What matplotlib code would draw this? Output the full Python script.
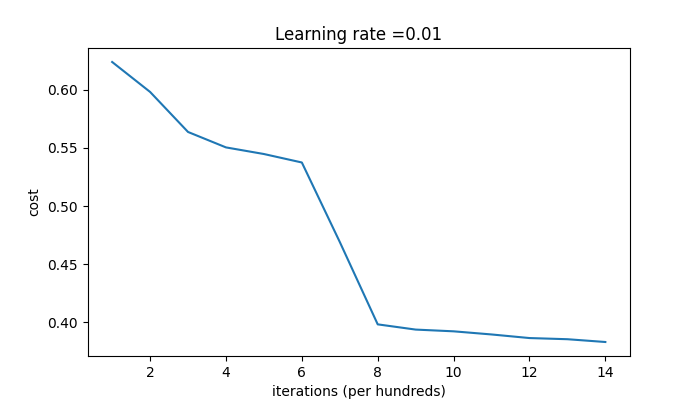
import matplotlib
matplotlib.use("Agg")
import matplotlib.pyplot as plt
import numpy as np

# cost values, one per hundred iterations
iterations = [1, 2, 3, 4, 5, 6, 7, 8, 9, 10, 11, 12, 13, 14]
costs = [0.6241, 0.5983, 0.5638, 0.5505, 0.5448, 0.5375, 0.4690, 0.3980,
         0.3935, 0.3920, 0.3893, 0.3862, 0.3852, 0.3828]
learning_rate = 0.01

fig, ax = plt.subplots(figsize=(7, 4), dpi=100)
ax.plot(iterations, np.squeeze(costs))
ax.set_ylabel('cost')
ax.set_xlabel('iterations (per hundreds)')
ax.set_title("Learning rate =" + str(learning_rate))
fig.savefig('out.png')
